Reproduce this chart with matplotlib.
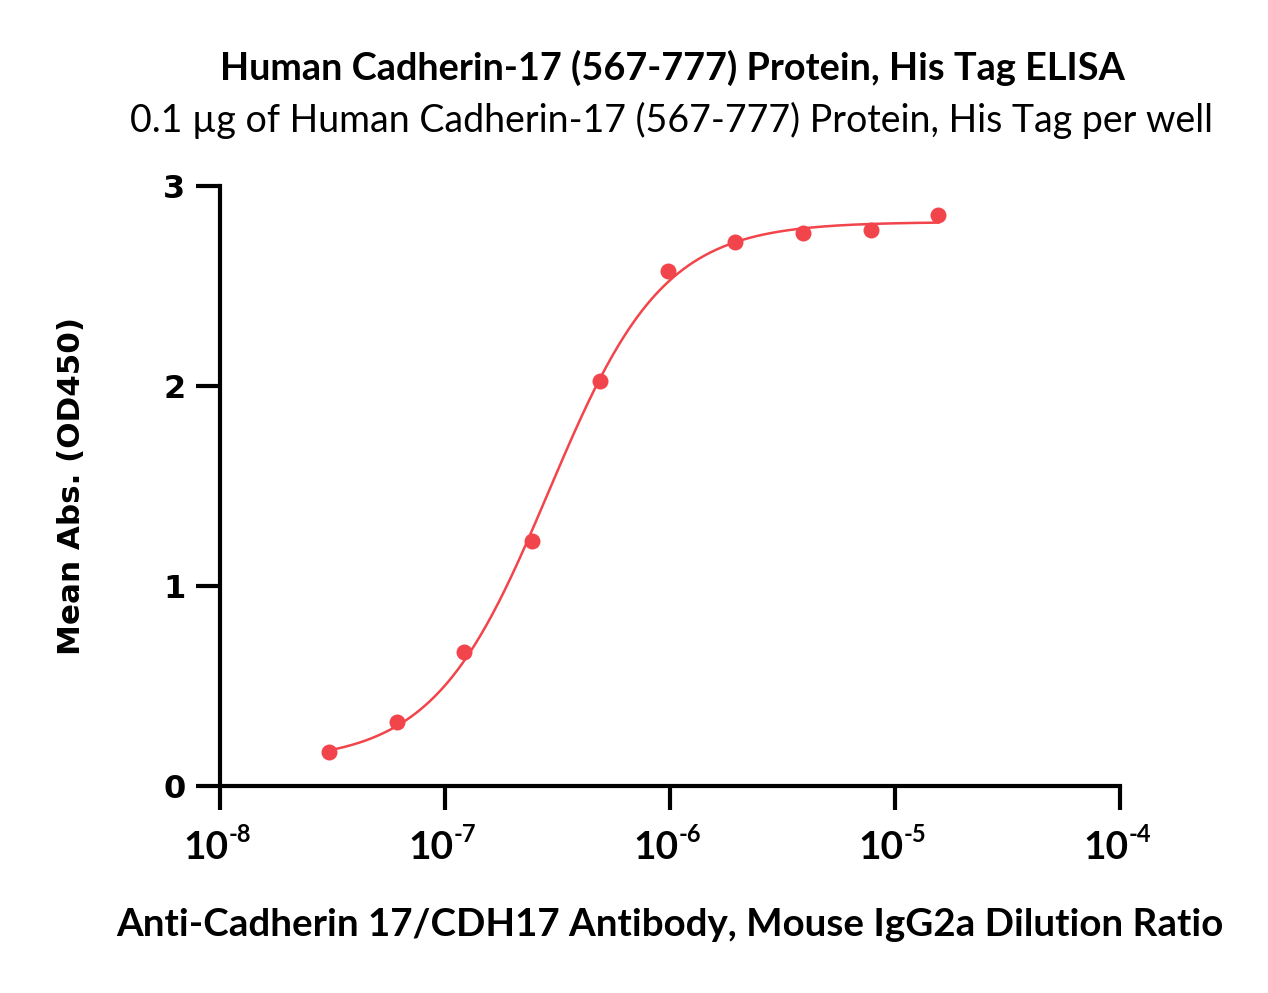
import numpy as np
import matplotlib
matplotlib.use("Agg")
import matplotlib.pyplot as plt

# ---- data ----
dilution = [3.05e-8, 6.1e-8, 1.22e-7, 2.44e-7, 4.88e-7, 9.77e-7, 1.95e-6, 3.9e-6, 7.8e-6, 1.56e-5]
od450 = [0.17, 0.32, 0.67, 1.225, 2.025, 2.575, 2.72, 2.765, 2.78, 2.855]
x_ticks = [1e-8, 1e-7, 1e-6, 1e-5, 1e-4]
x_tick_bases = ["10", "10", "10", "10", "10"]
x_tick_exps = ["-8", "-7", "-6", "-5", "-4"]
y_ticks = [0, 1, 2, 3]

title = "Human Cadherin-17 (567-777) Protein, His Tag ELISA"
subtitle = "0.1 \u00b5g of Human Cadherin-17 (567-777) Protein, His Tag per well"
xlabel = "Anti-Cadherin 17/CDH17 Antibody, Mouse IgG2a Dilution Ratio"
ylabel = "Mean Abs. (OD450)"

RED = "#F2444B"

# ---- 4PL fit (least squares by grid search) ----
lx = np.log10(np.array(dilution))
yv = np.array(od450)

def model(lx, b, t, le, h):
    return b + (t - b) / (1 + 10 ** ((le - lx) * h))

B = np.linspace(-0.1, 0.4, 26)
T = np.linspace(2.6, 3.0, 21)
LE = np.linspace(-7.0, -6.0, 51)
H = np.linspace(0.8, 2.5, 35)
bb, tt, ee, hh = np.meshgrid(B, T, LE, H, indexing="ij")
pred = bb[..., None] + (tt - bb)[..., None] / (1 + 10 ** ((ee[..., None] - lx) * hh[..., None]))
sse = ((pred - yv) ** 2).sum(-1)
i = np.unravel_index(np.argmin(sse), sse.shape)
params = (B[i[0]], T[i[1]], LE[i[2]], H[i[3]])

xs = np.logspace(np.log10(dilution[0]), np.log10(dilution[-1]), 400)
ys = model(np.log10(xs), *params)

# ---- figure ----
fig = plt.figure(figsize=(12.68, 9.93), dpi=100)
ax = fig.add_axes([220/1268, 1 - 786/993, 900/1268, 600/993])

ax.plot(xs, ys, color=RED, lw=1.8, zorder=2)
ax.plot(dilution, od450, "o", color=RED, ms=11.5, mec="none", zorder=3, clip_on=False)

ax.set_xscale("log")
ax.set_xlim(1e-8, 1e-4)
ax.set_ylim(0, 3)
ax.set_xticks(x_ticks)
ax.xaxis.set_minor_locator(matplotlib.ticker.NullLocator())
ax.set_xticklabels([""] * len(x_ticks))
ax.set_yticks(y_ticks)
ax.set_yticklabels([str(v) for v in y_ticks])

for s in ["top", "right"]:
    ax.spines[s].set_visible(False)
for s in ["left", "bottom"]:
    ax.spines[s].set_linewidth(3.0)
ax.tick_params(axis="both", which="major", width=3.0, length=17, direction="out")
ax.tick_params(axis="y", pad=8)
for lab in ax.get_yticklabels():
    lab.set_fontfamily("DejaVu Sans")
    lab.set_fontweight("bold")
    lab.set_fontsize(23)

# x tick labels: "10" with raised exponent
for xt, base, ex in zip(x_ticks, x_tick_bases, x_tick_exps):
    ax.annotate(base, xy=(xt, 0), xycoords=("data", "axes fraction"),
                xytext=(6, -44), textcoords="offset points", ha="right", va="center",
                fontfamily="Lato", fontweight="bold", fontsize=28, annotation_clip=False)
    ax.annotate(ex, xy=(xt, 0), xycoords=("data", "axes fraction"),
                xytext=(6, -35), textcoords="offset points", ha="left", va="center",
                fontfamily="Lato", fontweight="bold", fontsize=17, annotation_clip=False)

fig.text(672/1268, 1 - 68/993, title, ha="center", va="center", fontfamily="Lato",
         fontweight="bold", fontsize=27.3)
fig.text(672/1268, 1 - 120/993, subtitle, ha="center", va="center", fontfamily="Lato",
         fontsize=27)
fig.text(670/1268, 1 - 925/993, xlabel, ha="center", va="center", fontfamily="Lato",
         fontweight="bold", fontsize=27.7)
fig.text(72/1268, 1 - 486/993, ylabel, ha="center", va="center", rotation=90,
         fontfamily="DejaVu Sans", fontweight="bold", fontsize=22.3)

fig.savefig("out.png", dpi=100)
